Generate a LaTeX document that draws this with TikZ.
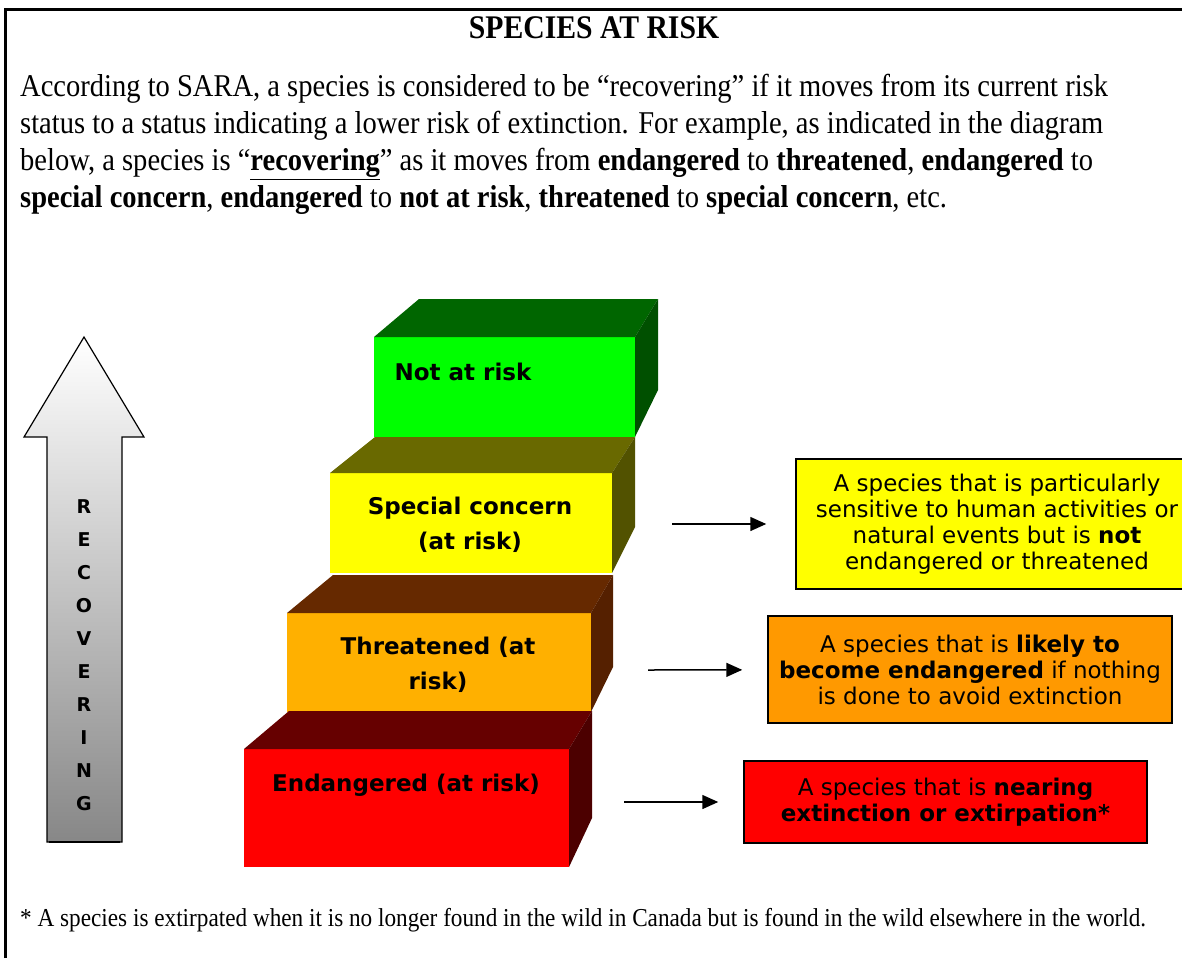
\documentclass[tikz,border=0pt]{standalone}
\usepackage{fontspec}
\setmainfont{Liberation Serif}[FakeStretch=0.9]
\setsansfont{DejaVu Sans}
\usetikzlibrary{arrows.meta,calc}
\definecolor{sarGreen}{HTML}{00FF00}
\definecolor{sarGreenTop}{HTML}{006600}
\definecolor{sarGreenSide}{HTML}{005000}
\definecolor{sarYellow}{HTML}{FFFF00}
\definecolor{sarYellowTop}{HTML}{696900}
\definecolor{sarYellowSide}{HTML}{525200}
\definecolor{sarAmber}{HTML}{FFB000}
\definecolor{sarAmberTop}{HTML}{662900}
\definecolor{sarAmberSide}{HTML}{552000}
\definecolor{sarOrange}{HTML}{FF9900}
\definecolor{sarRed}{HTML}{FF0000}
\definecolor{sarRedTop}{HTML}{660000}
\definecolor{sarRedSide}{HTML}{4C0000}
\tikzset{
    stepface/.style={rectangle,draw=none,inner sep=0pt,outer sep=0pt},
    steplabel/.style={font=\sffamily\bfseries\fontsize{23}{35}\selectfont,align=center,inner sep=0pt},
    descbox/.style={rectangle,draw=black,line width=1.5pt,inner sep=0pt,align=center,font=\sffamily\fontsize{23}{26}\selectfont},
    conn/.style={-{Triangle[length=16pt,width=14pt]},line width=1.5pt}
}

\begin{document}
\begin{tikzpicture}[x=1pt,y=-1pt]

\path[use as bounding box] (0,0) rectangle (1182,958);
\clip (0,0) rectangle (1182,958);

% page frame
\draw[line width=3pt] (5,958) -- (5,10) -- (1182,10);

% heading and text
\node[font=\bfseries\fontsize{33}{36}\selectfont] at (594,28) (title) {SPECIES AT RISK};
\node[anchor=north west,inner sep=0pt,align=left,font=\fontsize{31.7}{37}\selectfont] at (20,74) (intro) {According to SARA, a species is considered to be “recovering” if it moves from its current risk\\
status to a status indicating a lower risk of extinction. For example, as indicated in the diagram\\
below, a species is “\underline{\textbf{recovering}}” as it moves from \textbf{endangered} to \textbf{threatened}, \textbf{endangered} to\\
\textbf{special concern}, \textbf{endangered} to \textbf{not at risk}, \textbf{threatened} to \textbf{special concern}, etc.};
\node[anchor=west,inner sep=0pt,font=\fontsize{25.8}{28}\selectfont] at (20,920) (note) {* A species is extirpated when it is no longer found in the wild in Canada but is found in the wild elsewhere in the world.};

% big recovering arrow
\draw[line width=1.2pt,top color=white,bottom color=black!47] (84,337) -- (144,437) -- (122,437) -- (122,842) -- (47,842) -- (47,437) -- (24,437) -- cycle;
\draw[line width=2.5pt] (49,842) -- (120,842);
\node[font=\sffamily\bfseries\fontsize{19}{33}\selectfont,align=center,inner sep=0pt] at (84,655) (recov) {R\\E\\C\\O\\V\\E\\R\\I\\N\\G};

% steps, top to bottom
\node[stepface,fill=sarGreen,minimum width=261,minimum height=100] at (504.5,387) (notrisk) {};
\fill[sarGreenTop] (notrisk.north west) -- ++(45,-38) -- ($(notrisk.north east)+(23,-38)$) -- (notrisk.north east) -- cycle;
\fill[sarGreenSide] (notrisk.north east) -- ++(23,-38) -- ($(notrisk.south east)+(23,-47)$) -- (notrisk.south east) -- cycle;

\node[stepface,fill=sarYellow,minimum width=282,minimum height=100] at (471,523) (special) {};
\fill[sarYellowTop] (special.north west) -- ++(45,-36) -- ($(special.north east)+(23,-36)$) -- (special.north east) -- cycle;
\fill[sarYellowSide] (special.north east) -- ++(23,-36) -- ($(special.south east)+(23,-46)$) -- (special.south east) -- cycle;

\node[stepface,fill=sarAmber,minimum width=304,minimum height=99] at (439,662.5) (threat) {};
\fill[sarAmberTop] (threat.north west) -- ++(46,-38) -- ($(threat.north east)+(22,-38)$) -- (threat.north east) -- cycle;
\fill[sarAmberSide] (threat.north east) -- ++(22,-38) -- ($(threat.south east)+(22,-45)$) -- (threat.south east) -- cycle;

\node[stepface,fill=sarRed,minimum width=325,minimum height=118] at (406.5,808) (endang) {};
\fill[sarRedTop] (endang.north west) -- ++(45,-38) -- ($(endang.north east)+(23,-38)$) -- (endang.north east) -- cycle;
\fill[sarRedSide] (endang.north east) -- ++(23,-38) -- ($(endang.south east)+(23,-49)$) -- (endang.south east) -- cycle;

% step labels
\node[steplabel] at (463,372) (notrisk-lbl) {Not at risk};
\node[steplabel] at (470,525) (special-lbl) {Special concern\\(at risk)};
\node[steplabel] at (438,665) (threat-lbl) {Threatened (at\\risk)};
\node[steplabel] at (406,785) (endang-lbl) {Endangered (at risk)};

% descriptions
\node[descbox,fill=sarYellow,minimum width=402,minimum height=130] at (997,524) (specialdesc) {A species that is particularly\\sensitive to human activities or\\natural events but is \textbf{not}\\endangered or threatened};
\node[descbox,fill=sarOrange,minimum width=404,minimum height=107] at (970,669.5) (threatdesc) {A species that is \textbf{likely to}\\\textbf{become endangered} if nothing\\is done to avoid extinction};
\node[descbox,fill=sarRed,minimum width=403,minimum height=82] at (945.5,802) (endangdesc) {A species that is \textbf{nearing}\\\textbf{extinction or extirpation*}};

% connectors
\coordinate (special-out) at (672,524);
\coordinate (threat-out) at (648,670);
\coordinate (endang-out) at (624,802);
\draw[conn,shorten >=29pt] (special-out) -- (specialdesc);
\draw[conn,shorten >=25pt] (threat-out) -- (threatdesc);
\draw[conn,shorten >=25pt] (endang-out) -- (endangdesc);

\end{tikzpicture}
\end{document}
